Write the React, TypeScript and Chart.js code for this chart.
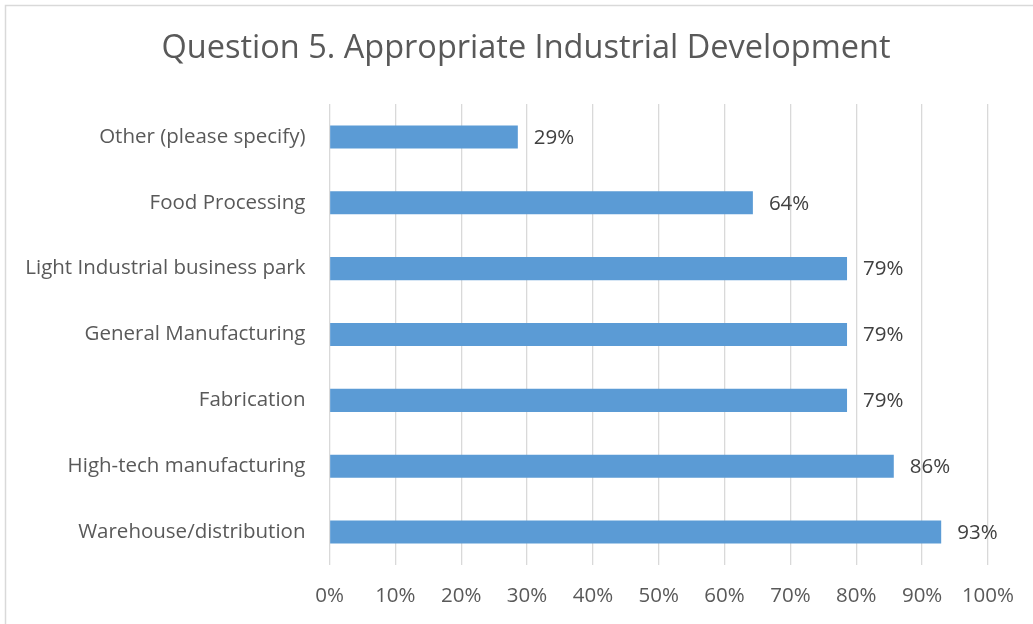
import React, { useEffect, useRef } from "react";
import { Chart, registerables } from "chart.js";

Chart.register(...registerables);

const TITLE = "Question 5. Appropriate Industrial Development";
const categories = [
  "Other (please specify)",
  "Food Processing",
  "Light Industrial business park",
  "General Manufacturing",
  "Fabrication",
  "High-tech manufacturing",
  "Warehouse/distribution",
];
const values = [28.6, 64.3, 78.6, 78.6, 78.6, 85.7, 92.9];
const xTicks = [0, 10, 20, 30, 40, 50, 60, 70, 80, 90, 100];

const FONT = "'Open Sans', 'Noto Sans', sans-serif";

const framePlugin = {
  id: "frame",
  beforeDraw(chart: any) {
    const ctx = chart.ctx;
    ctx.save();
    ctx.fillStyle = "#ffffff";
    ctx.fillRect(0, 0, chart.width, chart.height);
    ctx.strokeStyle = "#d9d9d9";
    ctx.lineWidth = 1.5;
    ctx.strokeRect(5.5, 5.5, chart.width + 20, chart.height + 20);
    ctx.font = `32.5px ${FONT}`;
    ctx.fillStyle = "#595959";
    ctx.textAlign = "center";
    ctx.textBaseline = "middle";
    ctx.fillText(TITLE, 526, 49);
    ctx.restore();
  },
};

const labelPlugin = {
  id: "barLabels",
  afterDatasetsDraw(chart: any) {
    const ctx = chart.ctx;
    const meta = chart.getDatasetMeta(0);
    ctx.save();
    ctx.font = `20.5px ${FONT}`;
    ctx.fillStyle = "#404040";
    ctx.textAlign = "left";
    ctx.textBaseline = "middle";
    meta.data.forEach((bar: any, i: number) => {
      const v = chart.data.datasets[0].data[i] as number;
      ctx.fillText(`${Math.round(v)}%`, bar.x + 16, bar.y + 1);
    });
    ctx.restore();
  },
};

export default function App() {
  const ref = useRef<HTMLCanvasElement | null>(null);
  useEffect(() => {
    if (!ref.current) return;
    const chart = new Chart(ref.current, {
      type: "bar",
      data: {
        labels: categories,
        datasets: [
          {
            data: values,
            backgroundColor: "#5B9BD5",
            borderWidth: 0,
            barPercentage: 0.35,
            categoryPercentage: 1,
          },
        ],
      },
      options: {
        indexAxis: "y",
        animation: false,
        responsive: false,
        maintainAspectRatio: false,
        layout: { padding: { left: 0, right: 40, top: 104, bottom: 0 } },
        plugins: {
          legend: { display: false },
          tooltip: { enabled: false },
          title: { display: false },
        },
        scales: {
          x: {
            min: 0,
            max: 100,
            afterBuildTicks: (scale: any) => {
              scale.ticks = xTicks.map((v) => ({ value: v }));
            },
            afterFit: (scale: any) => {
              scale.height = 59;
            },
            ticks: {
              callback: (v: any) => `${v}%`,
              color: "#595959",
              font: { family: FONT, size: 20.5 },
              padding: 19,
              maxRotation: 0,
              autoSkip: false,
            },
            grid: { color: "#d9d9d9", lineWidth: 1.3, drawTicks: false },
            border: { display: false },
          },
          y: {
            afterFit: (scale: any) => {
              scale.width = 329.5;
            },
            ticks: {
              color: "#595959",
              font: { family: FONT, size: 20.5 },
              padding: 24,
              autoSkip: false,
            },
            grid: { display: false, drawTicks: false },
            border: { display: false },
          },
        },
      },
      plugins: [framePlugin, labelPlugin],
    });
    return () => chart.destroy();
  }, []);
  return (
    <div style={{ position: "absolute", left: 0, top: 0, width: 1033, height: 624 }}>
      <canvas ref={ref} width={1033} height={624} />
    </div>
  );
}
